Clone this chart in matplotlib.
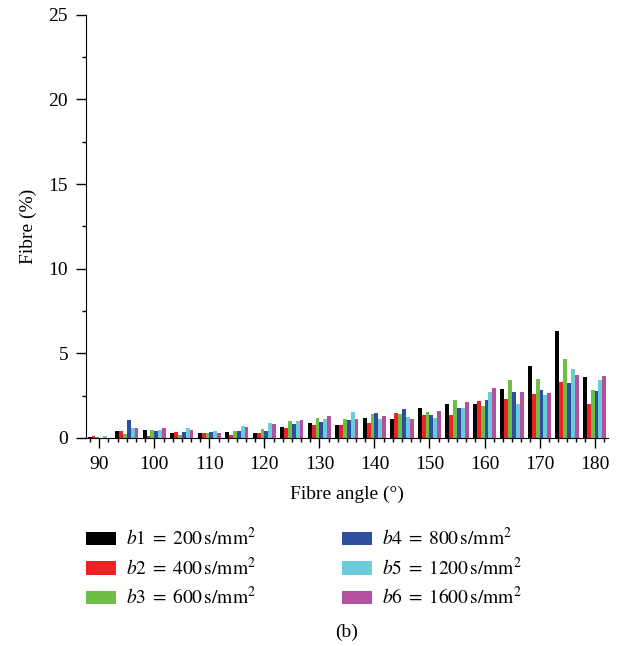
import matplotlib
matplotlib.use('Agg')
import matplotlib.pyplot as plt
import numpy as np
from matplotlib.ticker import MultipleLocator

plt.rcParams['font.family'] = ['Liberation Serif', 'DejaVu Serif']
plt.rcParams['mathtext.fontset'] = 'stix'

angles = [90, 95, 100, 105, 110, 115, 120, 125, 130, 135, 140, 145,
          150, 155, 160, 165, 170, 175, 180]

b1 = [0.06, 0.39, 0.45, 0.32, 0.28, 0.34, 0.28, 0.67, 0.87, 0.77, 1.16, 1.12,
      1.78, 2.01, 2.01, 2.90, 4.24, 6.33, 3.59]
b2 = [0.12, 0.39, 0.14, 0.34, 0.28, 0.18, 0.28, 0.57, 0.75, 0.77, 0.89, 1.48,
      1.36, 1.38, 2.19, 2.31, 2.62, 3.29, 2.01]
b3 = [0.08, 0.26, 0.47, 0.20, 0.28, 0.39, 0.55, 1.00, 1.18, 1.10, 1.40, 1.42,
      1.54, 2.25, 1.89, 3.45, 3.47, 4.67, 2.84]
b4 = [0.00, 1.06, 0.41, 0.36, 0.37, 0.39, 0.43, 0.83, 0.97, 1.07, 1.46, 1.72,
      1.36, 1.78, 2.23, 2.70, 2.84, 3.25, 2.76]
b5 = [0.12, 0.57, 0.49, 0.61, 0.39, 0.71, 0.87, 0.99, 1.14, 1.52, 1.12, 1.24,
      1.20, 1.78, 2.72, 2.01, 2.54, 4.06, 3.43]
b6 = [0.00, 0.61, 0.61, 0.45, 0.32, 0.63, 0.81, 1.04, 1.30, 1.12, 1.30, 1.10,
      1.60, 2.13, 2.94, 2.72, 2.64, 3.73, 3.67]

series = [b1, b2, b3, b4, b5, b6]
labels = [r'$b1\;=\;200\,\mathrm{s/mm^2}$',
          r'$b2\;=\;400\,\mathrm{s/mm^2}$',
          r'$b3\;=\;600\,\mathrm{s/mm^2}$',
          r'$b4\;=\;800\,\mathrm{s/mm^2}$',
          r'$b5\;=\;1200\,\mathrm{s/mm^2}$',
          r'$b6\;=\;1600\,\mathrm{s/mm^2}$']
colors = ['#000000', '#ED2224', '#6CBE45', '#2E4F9F', '#6DCAD8', '#B351A0']

FS = 14

fig = plt.figure(figsize=(6.24, 6.46), dpi=100)
ax = fig.add_axes([0.138, 0.322, 0.836, 0.655])

x = np.array(angles, dtype=float)
w = 0.7
handles = []
for i, (vals, col, lab) in enumerate(zip(series, colors, labels)):
    h = ax.bar(x + (i - 2.5) * w, vals, w, color=col, label=lab,
               edgecolor='none', zorder=2)
    handles.append(h)

ax.set_xlim(87.6, 182.4)
ax.set_ylim(0, 25)
ax.xaxis.set_major_locator(MultipleLocator(10))
ax.xaxis.set_minor_locator(MultipleLocator(10 / 6))
ax.yaxis.set_major_locator(MultipleLocator(5))
ax.yaxis.set_minor_locator(MultipleLocator(2.5))
ax.tick_params(which='major', direction='out', length=7, width=1,
               labelsize=FS, pad=6)
ax.tick_params(which='minor', direction='out', length=3, width=1)
ax.spines['top'].set_visible(False)
ax.spines['right'].set_visible(False)

ax.set_xlabel('Fibre angle (°)', fontsize=FS, labelpad=9)
ax.set_ylabel('Fibre (%)', fontsize=FS, labelpad=8)

fig.legend(handles=handles, loc='upper left', bbox_to_anchor=(0.125, 0.196),
           ncol=2, frameon=False, fontsize=FS, handlelength=1.55,
           handleheight=0.7, handletextpad=0.5, columnspacing=4.45,
           labelspacing=0.38, borderaxespad=0)

fig.text(0.556, 0.007, '(b)', ha='center', va='bottom', fontsize=FS)

fig.savefig('out.png', dpi=100)
